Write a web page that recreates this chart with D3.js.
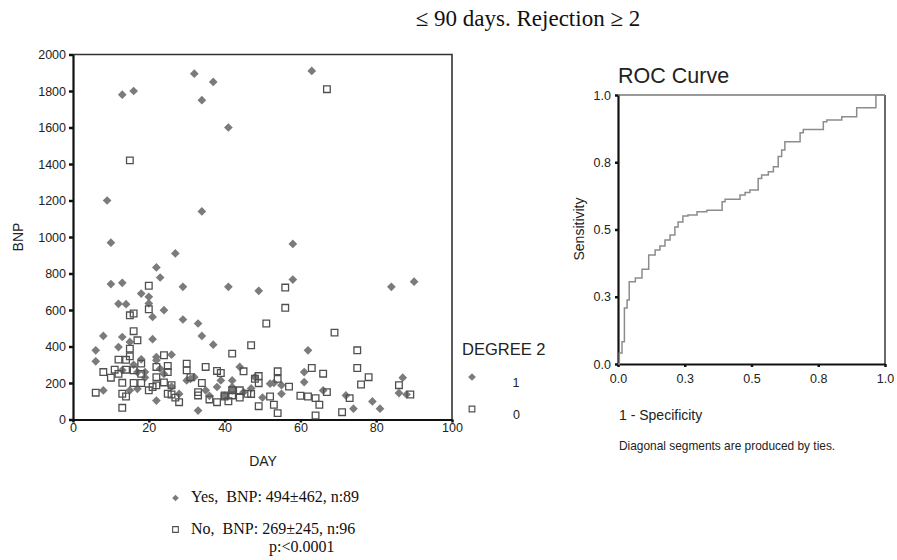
<!DOCTYPE html>
<html>
<head>
<meta charset="utf-8" />
<title>BNP by day, rejection grade 2 or more</title>
<script src="https://d3js.org/d3.v7.min.js"></script>
<style>
body { margin: 0; background: #fff; }
text { font-family: "Liberation Sans", Arial, sans-serif; fill: #222; }
.serif { font-family: "Liberation Serif", "Times New Roman", serif; fill: #111; white-space: pre; }
</style>
</head>
<body>
<svg id="chart" width="897" height="560"></svg>
<script>
// degree 2 = 1 (diamonds) : [day, BNP]
var yesPoints = [
  [13,1780],[16,1800],[9,1200],[32,1895],[37,1850],[34,1750],[41,1600],[34,1140],[63,1910],
  [10,969],[27,910],[22,833],[23,778],[10,742],[13,749],[29,727],[18,690],[20,672],[20,636],
  [12,634],[14,632],[21,562],[24,599],[29,548],[33,526],[34,458],[37,410],[8,458],[13,452],
  [12,397],[21,440],[6,379],[6,319],[15,425],[26,355],[22,342],[8,159],[22,104],[33,49],
  [39,214],[44,288],[31,223],[17,260],[17,168],[15,160],[42,160],[41,727],
  [58,962],[58,767],[49,705],[84,727],[90,755],[62,379],[61,260],[61,205],[87,229],[42,178],
  [52,196],[55,188],[55,141],[66,159],[72,132],[74,59],[79,99],[81,59],[86,145],[88,137],[48,232],
  [19,260],[22,324],[23,278],[30,214],[32,232],[38,178],[35,160],[42,214],[16,300],[19,230],
  [26,180],[13,270],[28,140],[45,150],[50,120],[36,130],[24,250],[18,330],[40,130],[53,200],[47,170]
];
// degree 2 = 0 (open squares)
var noPoints = [
  [15,1420],[67,1810],
  [20,733],[20,604],[16,581],[15,571],[16,484],[17,434],[15,388],[15,346],[12,328],[14,327],
  [24,352],[30,306],[30,269],[35,288],[38,266],[39,255],[8,260],[10,229],[11,273],[14,273],
  [13,201],[13,141],[14,126],[13,64],[6,147],[16,200],[18,200],[18,306],[22,288],[22,232],
  [22,187],[21,178],[25,293],[25,260],[24,203],[26,188],[25,141],[26,137],[28,95],[31,232],
  [33,150],[33,132],[38,95],[40,132],[42,361],[42,132],
  [56,723],[56,612],[51,526],[69,476],[47,407],[75,379],[75,282],[78,232],[76,192],[63,282],
  [66,251],[54,264],[54,223],[49,238],[45,264],[48,223],[49,199],[52,126],[49,73],[53,81],
  [54,35],[62,126],[64,117],[65,81],[64,22],[67,150],[73,117],[71,40],[86,188],[89,137],
  [42,160],[40,126],[46,141],[44,160],
  [18,250],[12,250],[16,270],[36,110],[44,120],[47,140],[20,160],[27,120],[34,200],[41,100],
  [57,180],[60,130]
];
var dayTicks = [0, 20, 40, 60, 80, 100];
var bnpTicks = [0, 200, 400, 600, 800, 1000, 1200, 1400, 1600, 1800, 2000];

// ROC curve corners [1 - specificity, sensitivity]
var rocPoints = [
  [0,0],[0.005,0.041],[0.015,0.083],[0.024,0.208],[0.034,0.238],[0.042,0.306],[0.065,0.320],
  [0.090,0.352],[0.115,0.405],[0.139,0.424],[0.157,0.439],[0.176,0.461],[0.195,0.480],
  [0.213,0.509],[0.225,0.528],[0.243,0.550],[0.262,0.554],[0.296,0.566],[0.333,0.572],
  [0.390,0.603],[0.401,0.612],[0.457,0.628],[0.476,0.638],[0.494,0.647],[0.525,0.690],
  [0.538,0.703],[0.563,0.715],[0.582,0.733],[0.600,0.771],[0.613,0.796],[0.625,0.826],
  [0.682,0.860],[0.694,0.872],[0.769,0.901],[0.782,0.907],[0.838,0.919],[0.894,0.953],
  [0.966,1.0],[1.0,1.0]
];
var rocTicks = [0, 0.25, 0.5, 0.75, 1];
var rocTickLabels = ["0.0", "0.3", "0.5", "0.8", "1.0"];

var svg = d3.select("#chart");
svg.append("rect").attr("width", 897).attr("height", 560).attr("fill", "#fff");

// ---- scatter ----
var x = d3.scaleLinear().domain([0, 100]).range([73, 452]);
var y = d3.scaleLinear().domain([0, 2000]).range([419.5, 54.5]);

svg.append("path")
  .attr("d", "M" + x(0) + "," + y(2000) + "H" + x(100) + "V" + y(0))
  .attr("fill", "none").attr("stroke", "#333").attr("stroke-width", 1.6);

var gy = svg.append("g").attr("transform", "translate(" + x(0) + ",0)")
  .call(d3.axisLeft(y).tickValues(bnpTicks).tickSize(4).tickPadding(3).tickSizeOuter(0).tickFormat(d3.format("d")));
var gx = svg.append("g").attr("transform", "translate(0," + y(0) + ")")
  .call(d3.axisBottom(x).tickValues(dayTicks).tickSize(3).tickPadding(1).tickSizeOuter(0));
[gy, gx].forEach(function(g) {
  g.select(".domain").attr("stroke", "#111").attr("stroke-width", 2.2);
  g.selectAll(".tick line").attr("stroke", "#111").attr("stroke-width", 2.5);
  g.selectAll(".tick text").attr("font-size", 12.5).attr("fill", "#1a1a1a")
    .attr("font-family", "Liberation Sans, Arial, sans-serif");
});

var diamond = d3.symbol(d3.symbolSquare, 38);
var square = d3.symbol(d3.symbolSquare, 44);

svg.append("g").selectAll("path").data(yesPoints).enter().append("path")
  .attr("d", diamond)
  .attr("transform", function(d) { return "translate(" + x(d[0]) + "," + y(d[1]) + ") rotate(45)"; })
  .attr("fill", "#7b7b7b");

svg.append("g").selectAll("path").data(noPoints).enter().append("path")
  .attr("d", square)
  .attr("transform", function(d) { return "translate(" + x(d[0]) + "," + y(d[1]) + ")"; })
  .attr("fill", "none").attr("stroke", "#505050").attr("stroke-width", 1.3);

svg.append("text").attr("transform", "translate(18,237) rotate(-90)")
  .attr("text-anchor", "middle").attr("dy", "0.35em").attr("font-size", 14).text("BNP");
svg.append("text").attr("x", 263).attr("y", 466).attr("text-anchor", "middle")
  .attr("font-size", 14).text("DAY");

// legend
svg.append("text").attr("x", 462).attr("y", 355).attr("font-size", 16.5).text("DEGREE 2");
svg.append("path").attr("d", d3.symbol(d3.symbolSquare, 30))
  .attr("transform", "translate(472,377) rotate(45)").attr("fill", "#7b7b7b");
svg.append("text").attr("x", 512.5).attr("y", 386.5).attr("font-size", 12.5).text("1");
svg.append("path").attr("d", d3.symbol(d3.symbolSquare, 32))
  .attr("transform", "translate(472,409)").attr("fill", "none")
  .attr("stroke", "#505050").attr("stroke-width", 1.2);
svg.append("text").attr("x", 513).attr("y", 419).attr("font-size", 12.5).text("0");

// ---- ROC ----
var rx = d3.scaleLinear().domain([0, 1]).range([618, 885]);
var ry = d3.scaleLinear().domain([0, 1]).range([364, 95]);

svg.append("line").attr("x1", rx(0)).attr("x2", rx(1)).attr("y1", ry(1)).attr("y2", ry(1))
  .attr("stroke", "#999").attr("stroke-width", 2);
svg.append("line").attr("x1", rx(1)).attr("x2", rx(1)).attr("y1", ry(1)).attr("y2", ry(0))
  .attr("stroke", "#444").attr("stroke-width", 1.6);

var ry_ax = svg.append("g").attr("transform", "translate(" + rx(0) + ",0)")
  .call(d3.axisLeft(ry).tickValues(rocTicks).tickSize(3).tickPadding(4).tickSizeOuter(0)
    .tickFormat(function(d, i) { return rocTickLabels[i]; }));
var rx_ax = svg.append("g").attr("transform", "translate(0," + ry(0) + ")")
  .call(d3.axisBottom(rx).tickValues(rocTicks).tickSize(3).tickPadding(7).tickSizeOuter(0)
    .tickFormat(function(d, i) { return rocTickLabels[i]; }));
[ry_ax, rx_ax].forEach(function(g) {
  g.select(".domain").attr("stroke", "#111").attr("stroke-width", 2.2);
  g.selectAll(".tick line").attr("stroke", "#111").attr("stroke-width", 2.5);
  g.selectAll(".tick text").attr("font-size", 12.5).attr("fill", "#1a1a1a")
    .attr("font-family", "Liberation Sans, Arial, sans-serif");
});

svg.append("path").datum(rocPoints)
  .attr("d", d3.line().x(function(d) { return rx(d[0]); }).y(function(d) { return ry(d[1]); }).curve(d3.curveStepAfter))
  .attr("fill", "none").attr("stroke", "#8c8c8c").attr("stroke-width", 1.5);

svg.append("text").attr("x", 618).attr("y", 83).attr("font-size", 21.5).text("ROC Curve");
svg.append("text").attr("transform", "translate(579,229) rotate(-90)")
  .attr("text-anchor", "middle").attr("dy", "0.35em").attr("font-size", 14).text("Sensitivity");
svg.append("text").attr("x", 619).attr("y", 420).attr("font-size", 14).text("1 - Specificity");
svg.append("text").attr("x", 619).attr("y", 450).attr("font-size", 11.9)
  .text("Diagonal segments are produced by ties.");

// ---- title and summary ----
svg.append("text").attr("class", "serif").attr("x", 528).attr("y", 26)
  .attr("text-anchor", "middle").attr("font-size", 23).text("\u2264 90 days. Rejection \u2265 2");

svg.append("path").attr("d", d3.symbol(d3.symbolSquare, 22))
  .attr("transform", "translate(175.5,498) rotate(45)").attr("fill", "#7b7b7b");
svg.append("text").attr("class", "serif").attr("x", 191).attr("y", 502)
  .attr("font-size", 16).text("Yes,  BNP: 494\u00b1462, n:89");
svg.append("path").attr("d", d3.symbol(d3.symbolSquare, 32))
  .attr("transform", "translate(175.5,529.5)").attr("fill", "none")
  .attr("stroke", "#505050").attr("stroke-width", 1.1);
svg.append("text").attr("class", "serif").attr("x", 191).attr("y", 534)
  .attr("font-size", 16).text("No,  BNP: 269\u00b1245, n:96");
svg.append("text").attr("class", "serif").attr("x", 269).attr("y", 552)
  .attr("font-size", 16).text("p:<0.0001");
</script>
</body>
</html>
